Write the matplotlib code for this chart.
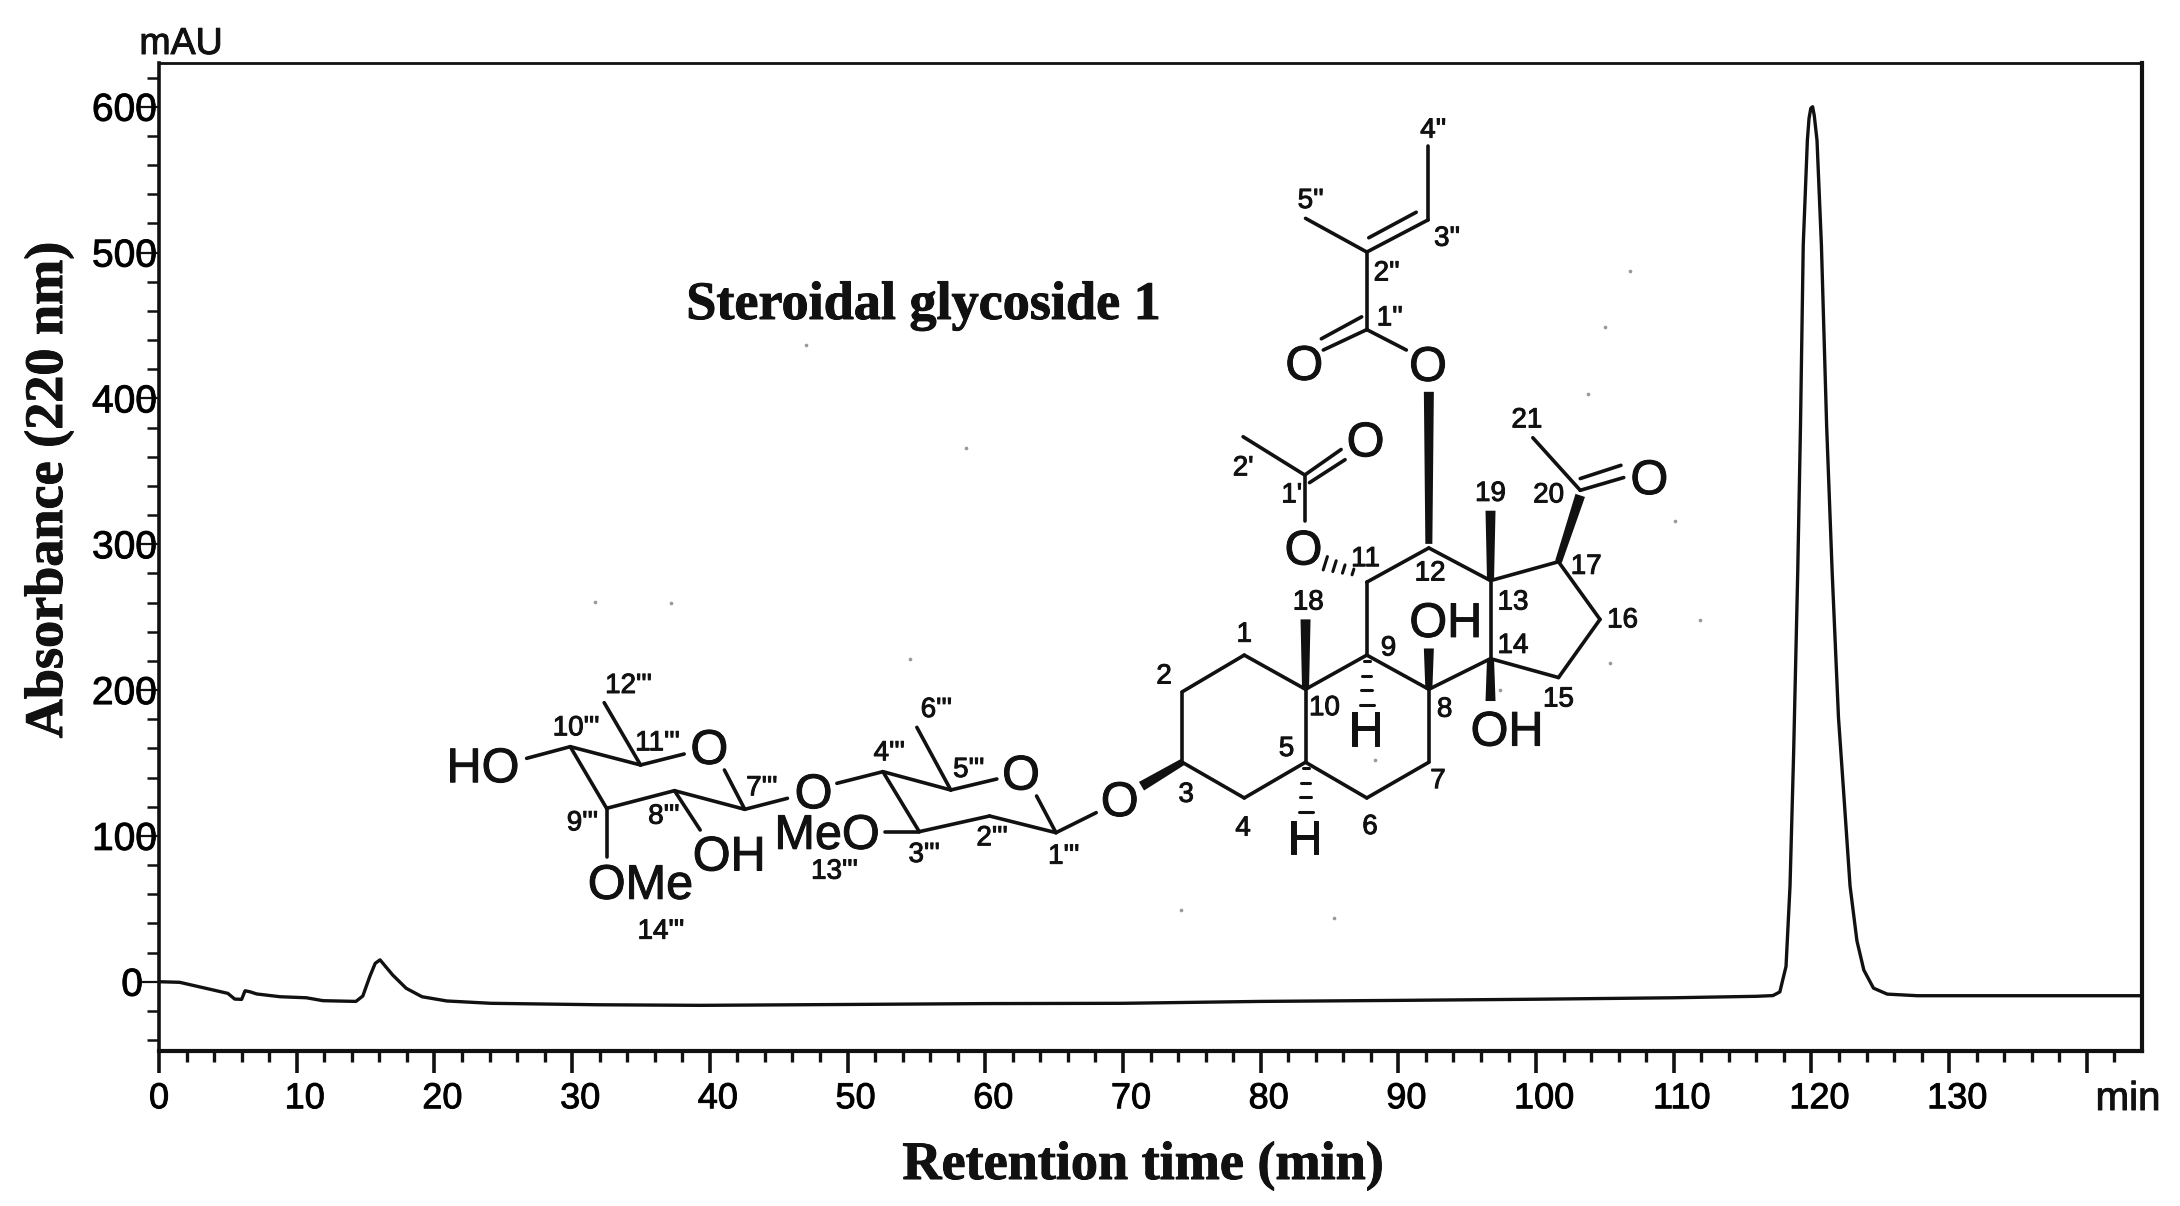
import matplotlib
matplotlib.use("Agg")
import matplotlib.pyplot as plt
from matplotlib.patches import Polygon
from matplotlib.text import Text
from matplotlib.transforms import ScaledTranslation
import matplotlib.patheffects as pe
import numpy as np

# chromatogram trace
time_min = [0, 1.5, 2.7, 3.95, 5.0, 5.5, 6.0, 6.25, 6.6, 7.1, 8.8, 10.7, 11.9, 14.3, 14.8, 15.3, 15.7, 16.05,
            16.97, 17.95, 19.1, 20.9, 24.1, 31.9, 39.3, 50, 60, 70, 80, 90, 100, 110, 116, 117.2, 117.7, 118.15, 118.44,
            118.7, 119.0, 119.2, 119.4, 119.7, 119.82, 119.95, 120.08, 120.2, 120.4, 120.72, 121.1, 121.5, 121.96,
            122.4, 122.8, 123.3, 123.8, 124.5, 125.5, 127.7, 135, 144]
absorbance = [0, -0.4, -3, -5.7, -8, -11.9, -12.1, -6.2, -6.9, -8.4, -10.3, -11, -13, -13.5, -9.8, 3.4, 12.6, 15,
              4.6, -4.5, -10.3, -13.2, -14.8, -15.8, -16.2, -15.6, -15, -14.8, -13.5, -12.8, -12, -11, -10, -9.5, -7, 10.5, 65.6,
              156, 281, 381, 505, 577, 592, 599, 600, 594, 577, 505, 381, 281, 181,
              121, 65.6, 28, 8, -4.4, -8.5, -9.6, -9.6, -9.6]

x_major = list(range(0, 150, 10))
x_labels = [str(v) for v in range(0, 140, 10)] + [""]
x_minor = list(range(2, 144, 2))
y_major = list(range(0, 700, 100))
y_labels = [str(v) for v in y_major]
y_minor = list(range(-40, 640, 20))

# structure drawing: atom positions as measured in the two zoomed crops
steroid = {"C1": (365, 1088), "C2": (208, 1160), "C3": (208, 1298), "C4": (365, 1368), "C5": (520, 1298),
           "C6": (675, 1368), "C7": (832, 1298), "C8": (832, 1155), "C9": (675, 1088), "C10": (520, 1155),
           "C11": (675, 945), "C12": (832, 878), "C13": (988, 942), "C14": (988, 1095), "C15": (1160, 1132),
           "C16": (1265, 1018), "C17": (1160, 905), "C20": (1215, 765), "C21": (1095, 662),
           "a": (1325, 740), "b": (775, 490), "c1": (675, 450), "c2": (675, 298), "c3": (830, 235),
           "c4": (830, 90), "c5": (520, 232), "d": (565, 490), "e": (518, 825), "f": (518, 735), "g": (362, 660), "h": (610, 685)}
steroid_bonds = [("C1", "C2"), ("C2", "C3"), ("C3", "C4"), ("C4", "C5"), ("C5", "C10"), ("C10", "C1"),
                 ("C5", "C6"), ("C6", "C7"), ("C7", "C8"), ("C8", "C9"), ("C9", "C10"), ("C9", "C11"),
                 ("C11", "C12"), ("C12", "C13"), ("C13", "C14"), ("C14", "C8"), ("C14", "C15"), ("C15", "C16"),
                 ("C16", "C17"), ("C17", "C13"), ("C20", "C21"), ("C20", "a"), ("b", "c1"), ("c1", "c2"),
                 ("c2", "c3"), ("c2", "c5"), ("c3", "c4"), ("c1", "d"), ("e", "f"), ("f", "g"), ("f", "h")]
steroid_double = [((1215, 742), (1318, 716)), ((680, 270), (800, 220)), ((662, 425), (560, 468)), ((530, 750), (620, 705))]
steroid_wedges = [((520, 1155), (520, 1018)), ((832, 1155), (832, 1075)), ((988, 942), (988, 805)),
                  ((988, 1095), (988, 1178)), ((832, 870), (832, 572)), ((1160, 905), (1215, 775)), ((208, 1298), (105, 1345))]
steroid_hashes = [((675, 1100), (675, 1185)), ((520, 1310), (520, 1395)), ((640, 925), (570, 908))]
steroid_atoms = [("O", 1390, 742), ("O", 830, 520), ("O", 517, 518), ("O", 672, 668), ("O", 515, 880), ("O", 50, 1373),
                 ("OH", 875, 1022), ("OH", 1030, 1235), ("H", 672, 1235), ("H", 518, 1448)]
steroid_numbers = [("1", 365, 1048), ("2", 162, 1130), ("3", 218, 1362), ("4", 362, 1428), ("5", 472, 1272), ("6", 683, 1425),
                   ("7", 855, 1335), ("8", 872, 1195), ("9", 730, 1075), ("10", 568, 1192), ("11", 672, 900), ("12", 835, 928),
                   ("13", 1045, 985), ("14", 1045, 1070), ("15", 1160, 1175), ("16", 1322, 1020), ("17", 1230, 915),
                   ("18", 527, 985), ("19", 988, 772), ("20", 1135, 775), ("21", 1080, 628), ("1'", 485, 775), ("2'", 362, 722),
                   ("1''", 733, 428), ("2''", 725, 340), ("3''", 878, 272), ("4''", 843, 60), ("5''", 533, 198)]

sugar_lines = [[(1395, 578), (1312, 638), (1175, 588), (1030, 635), (955, 455), (1095, 510), (1190, 477)],
               [(1272, 528), (1312, 638)], [(1095, 510), (1025, 322)], [(955, 455), (860, 490)], [(1030, 635), (960, 635)],
               [(758, 535), (670, 568), (525, 512), (385, 565), (310, 380), (455, 435), (545, 402)],
               [(628, 450), (670, 568)], [(455, 435), (380, 248)], [(310, 380), (220, 415)],
               [(525, 512), (578, 630)], [(385, 565), (385, 710)]]
sugar_atoms = [("O", 1240, 462), ("O", 812, 518), ("O", 597, 385), ("MeO", 840, 640), ("HO", 130, 440),
               ("OH", 638, 705), ("OMe", 455, 790)]
sugar_numbers = [("1'''", 1328, 710), ("2'''", 1180, 655), ("3'''", 1040, 705), ("4'''", 968, 400), ("5'''", 1132, 450),
                 ("6'''", 1065, 270), ("7'''", 705, 505), ("8'''", 503, 590), ("9'''", 335, 610), ("10'''", 322, 325),
                 ("11'''", 490, 370), ("12'''", 430, 198), ("13'''", 855, 755), ("14'''", 497, 935)]

speck_x = [806, 595, 671, 910, 966, 1630, 1605, 1588, 1675, 1610, 1181, 1334, 1375, 1500, 1700]
speck_y = [345, 602, 603, 659, 448, 271, 327, 394, 521, 663, 910, 918, 760, 690, 620]

SANS = "Liberation Sans"
SERIF = "Liberation Serif"
W, H = 2180, 1206


def z4(p):
    return 1100 + p[0] / 2.53, 100 + p[1] / 1.96


def z3(p):
    return 420 + p[0] / 2.063, 620 + p[1] / 3


fig = plt.figure(figsize=(W / 100, H / 100), dpi=100)
ax = fig.add_axes([159 / W, 1 - 1050.7 / H, (2142 - 159) / W, (1050.7 - 63) / H])
ax.plot(time_min, absorbance, color="#111111", lw=2.4, solid_joinstyle="round")
ax.set_xlim(0, 144)
ax.set_ylim(-47.3, 630)

ax.set_xticks(x_major)
ax.set_xticklabels(x_labels, fontsize=26, family=SANS)
ax.set_xticks(x_minor, minor=True)
ax.set_yticks(y_major)
ax.set_yticklabels(y_labels, fontsize=28, family=SANS)
ax.set_yticks(y_minor, minor=True)
ax.tick_params(axis="x", which="major", length=16, width=2.6, pad=6, color="#111111")
ax.tick_params(axis="x", which="minor", length=8, width=2.4, color="#111111")
ax.tick_params(axis="y", which="major", length=13.7, width=1.6, pad=-12.2, color="#111111")
ax.tick_params(axis="y", which="minor", length=8.5, width=1.8, color="#111111")
for name, lw in [("left", 2.6), ("top", 2.0), ("bottom", 3.0), ("right", 3.0)]:
    ax.spines[name].set_linewidth(lw)
    ax.spines[name].set_color("#111111")

# the scanned labels sit a little off their ticks
for lab, txt in zip(ax.get_xticklabels(), x_labels):
    dx = 0 if txt == "0" else 8 / 100
    lab.set_transform(lab.get_transform() + ScaledTranslation(dx, 0, fig.dpi_scale_trans))
for lab, txt in zip(ax.get_yticklabels(), y_labels):
    if txt == "0":
        lab.set_transform(lab.get_transform() + ScaledTranslation(-14 / 100, 0, fig.dpi_scale_trans))

# overlay in picture pixels for the structure and the free text
ov = fig.add_axes([0, 0, 1, 1])
ov.set_xlim(0, W)
ov.set_ylim(H, 0)
ov.axis("off")
ov.patch.set_alpha(0)

ov.scatter(speck_x, speck_y, s=7, color="#999999", linewidths=0)


def bond(a, b, lw=2.6):
    ov.plot([a[0], b[0]], [a[1], b[1]], color="#111111", lw=lw, solid_capstyle="round")


def wedge(tip, end, w=10):
    tip, end = np.array(tip), np.array(end)
    d = end - tip
    n = np.array([-d[1], d[0]]) / np.hypot(*d)
    pts = [tip + n * w * 0.35, end + n * w / 2, end - n * w / 2, tip - n * w * 0.35]
    ov.add_patch(Polygon(pts, closed=True, color="#111111", lw=0))


def hash_bond(a, b, count=4):
    a, b = np.array(a), np.array(b)
    d = b - a
    n = np.array([-d[1], d[0]]) / np.hypot(*d)
    for i in range(count):
        f = i / (count - 1)
        c = a + d * f
        half = 3 + 4 * f
        bond(c - n * half, c + n * half, lw=2.2)


for s, e in steroid_bonds:
    bond(z4(steroid[s]), z4(steroid[e]))
for s, e in steroid_double:
    bond(z4(s), z4(e))
for s, e in steroid_wedges:
    wedge(z4(s), z4(e))
for s, e in steroid_hashes:
    hash_bond(z4(s), z4(e))
for line in sugar_lines:
    for s, e in zip(line[:-1], line[1:]):
        bond(z3(s), z3(e))

for t, x, y in steroid_atoms:
    px, py = z4((x, y))
    ov.text(px, py + 3, t, fontsize=35, family=SANS, ha="center", va="center", color="#111111")
for t, x, y in sugar_atoms:
    px, py = z3((x, y))
    ov.text(px, py + 3, t, fontsize=35, family=SANS, ha="center", va="center", color="#111111")
for t, x, y in steroid_numbers:
    px, py = z4((x, y))
    ov.text(px, py, t, fontsize=20, family=SANS, ha="center", va="center", color="#111111")
for t, x, y in sugar_numbers:
    px, py = z3((x, y))
    ov.text(px, py, t, fontsize=20, family=SANS, ha="center", va="center", color="#111111")

ov.text(923, 306, "Steroidal glycoside 1", fontsize=39, family=SERIF, weight="bold", ha="center", va="center", color="#111111")
ov.text(49, 490, "Absorbance (220 nm)", fontsize=39, family=SERIF, weight="bold", rotation=90, ha="center", va="center", color="#111111")
ov.text(1143, 1166, "Retention time (min)", fontsize=39, family=SERIF, weight="bold", ha="center", va="center", color="#111111")
ov.text(181, 44, "mAU", fontsize=27, family=SANS, ha="center", va="center", color="#111111")
ov.text(2128, 1110, "min", fontsize=29, family=SANS, ha="center", va="baseline", color="#111111")

# scan looks heavier than clean vector glyphs
for t in fig.findobj(Text):
    t.set_path_effects([pe.withStroke(linewidth=0.7, foreground="#111111")])

fig.savefig("out.png", dpi=100)
